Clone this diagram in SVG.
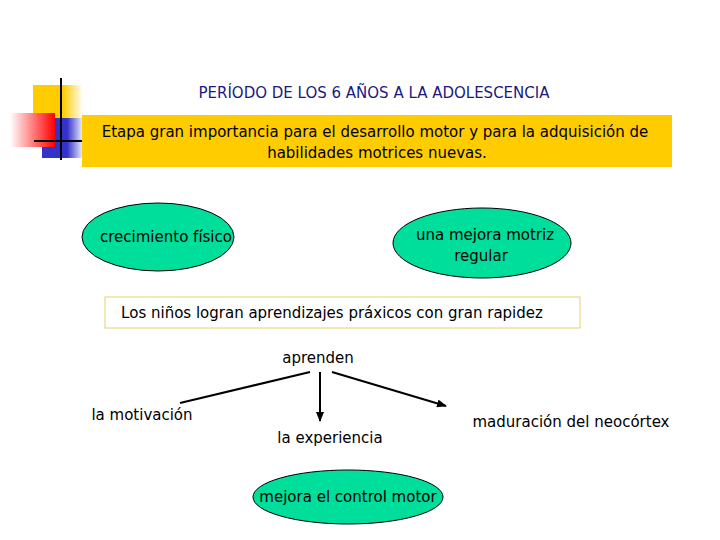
<svg xmlns="http://www.w3.org/2000/svg" width="720" height="540" viewBox="0 0 720 540">
<style>
text{font-family:"DejaVu Sans",Verdana,sans-serif;font-size:15px;fill:#000;text-anchor:middle}
.ov{fill:#00de9b;stroke:#000;stroke-width:1}
.ln{stroke:#000;stroke-width:2;fill:none}
</style>
<defs>
<linearGradient id="rg" x1="0" x2="1"><stop offset="0" stop-color="#fff"/><stop offset="1" stop-color="#f00"/></linearGradient>
<linearGradient id="yg" x1="0" x2="1"><stop offset="0.6" stop-color="#ffcc00"/><stop offset="1" stop-color="#fff"/></linearGradient>
<linearGradient id="bg" x1="0" x2="1"><stop offset="0.6" stop-color="#3333cc"/><stop offset="1" stop-color="#fff"/></linearGradient>
<marker id="ah" markerWidth="10" markerHeight="8" refX="9" refY="4" orient="auto" markerUnits="userSpaceOnUse"><path d="M0,0L10,4L0,8z" fill="#000"/></marker>
</defs>
<g id="deco">
<rect x="33" y="85" width="50" height="50" fill="url(#yg)"/>
<rect x="42" y="118" width="42" height="40" fill="url(#bg)"/>
<rect x="10" y="113" width="45" height="34" fill="url(#rg)"/>
<line x1="61" y1="78" x2="61" y2="160" class="ln" stroke-width="3"/>
<line x1="34" y1="141" x2="82" y2="141" class="ln" stroke-width="3"/>
</g>
<g id="title"><text x="374" y="98" style="fill:#1a1a80">PERÍODO DE LOS 6 AÑOS A LA ADOLESCENCIA</text></g>
<g id="banner">
<rect x="82" y="115" width="590" height="52" fill="#ffcc00"/>
<text x="375" y="137">Etapa gran importancia para el desarrollo motor y para la adquisición de</text>
<text x="377" y="158">habilidades motrices nuevas.</text>
</g>
<g id="crecimiento"><ellipse cx="158" cy="237" rx="76" ry="34" class="ov"/><text x="166" y="242">crecimiento físico</text></g>
<g id="mejora"><ellipse cx="482" cy="243" rx="89" ry="35" class="ov"/><text x="485" y="240">una mejora motriz</text><text x="481" y="261">regular</text></g>
<g id="logran"><rect x="105" y="297" width="475" height="31" fill="#fff" stroke="#e8d070"/><text x="332" y="318">Los niños logran aprendizajes práxicos con gran rapidez</text></g>
<g id="aprenden"><text x="318" y="363">aprenden</text></g>
<g id="connectors">
<line x1="310" y1="372" x2="180" y2="403" class="ln"/>
<line x1="320" y1="372" x2="320" y2="421" class="ln" marker-end="url(#ah)"/>
<line x1="332" y1="372" x2="446" y2="406" class="ln" marker-end="url(#ah)"/>
</g>
<g id="motivacion"><text x="142" y="420">la motivación</text></g>
<g id="experiencia"><text x="330" y="443">la experiencia</text></g>
<g id="maduracion"><text x="571" y="427">maduración del neocórtex</text></g>
<g id="control"><ellipse cx="348" cy="497" rx="95" ry="27" class="ov"/><text x="348" y="502">mejora el control motor</text></g>
</svg>
